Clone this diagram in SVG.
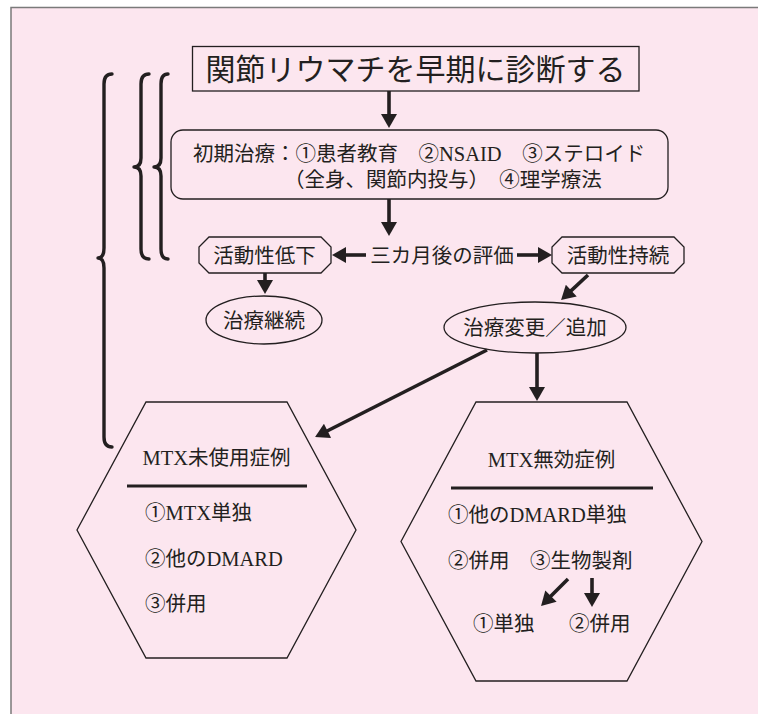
<svg xmlns="http://www.w3.org/2000/svg" width="758" height="714" viewBox="0 0 758 714">
<defs>
<style>
.t{font-family:"Liberation Serif","Noto Sans CJK JP",serif;font-size:20.5px;fill:#231f20}
.big{font-size:30px}
.m{text-anchor:middle}
.shape{fill:#fce6ef;stroke:#231f20;stroke-width:1.3}
.arr{stroke:#231f20;stroke-width:3.6;fill:none;marker-end:url(#ah)}
.brace{stroke:#231f20;stroke-width:3.4;fill:none;stroke-linecap:round;stroke-linejoin:round}
.div{stroke:#231f20;stroke-width:3}
</style>
<marker id="ah" markerUnits="userSpaceOnUse" markerWidth="16" markerHeight="16" viewBox="0 0 14 16" refX="6" refY="8" orient="auto">
<path d="M0,0 L14,8 L0,16 z" fill="#231f20"/>
</marker>
</defs>
<rect width="758" height="714" fill="#ffffff"/>
<rect x="11" y="7.5" width="760" height="720" fill="#fce6ef" stroke="#7a7a7a" stroke-width="1.5"/>

<g id="braces">
<path class="brace" d="M112,74 Q104,74 104,84 L104,248 Q104,258 98,258 Q104,258 104,268 L104,437 Q104,447 112,447"/>
<path class="brace" d="M149,74 Q141,74 141,84 L141,158 Q141,167 134,167 Q141,167 141,176 L141,249 Q141,259 149,259"/>
<path class="brace" d="M168,74 Q161,74 161,84 L161,158 Q161,167 154,167 Q161,167 161,176 L161,249 Q161,259 168,259"/>
</g>

<g id="title">
<rect class="shape" x="192.5" y="46.5" width="446.5" height="44.5"/>
<text class="t big m" x="415.5" y="79.5">関節リウマチを早期に診断する</text>
</g>

<g id="initial">
<rect class="shape" x="171" y="130" width="497" height="69" rx="12"/>
<text class="t" x="193" y="160.5">初期治療：①患者教育　②NSAID　③ステロイド</text>
<text class="t" x="284" y="187">（全身、関節内投与）　④理学療法</text>
</g>

<g id="eval">
<text class="t m" x="442" y="262.5">三カ月後の評価</text>
</g>

<g id="low">
<polygon class="shape" points="209,237 321,237 331,247 331,263 321,273 209,273 199,263 199,247"/>
<text class="t m" x="264.5" y="262.5">活動性低下</text>
</g>

<g id="persist">
<polygon class="shape" points="562,237 674,237 684,247 684,263 674,273 562,273 552,263 552,247"/>
<text class="t m" x="618" y="262.5">活動性持続</text>
</g>

<g id="continue">
<ellipse class="shape" cx="264" cy="320" rx="58" ry="24"/>
<text class="t m" x="264" y="327.5">治療継続</text>
</g>

<g id="change">
<ellipse class="shape" cx="535" cy="327.5" rx="91" ry="25.5"/>
<text class="t m" x="535" y="335">治療変更／追加</text>
</g>

<g id="mtx-naive">
<polygon class="shape" points="146,402 287,402 356,530 287,658 146,658 77,530"/>
<text class="t m" x="216.5" y="464.5">MTX未使用症例</text>
<line class="div" x1="127" y1="486" x2="307" y2="486"/>
<text class="t" x="145" y="519.5">①MTX単独</text>
<text class="t" x="145" y="565.5">②他のDMARD</text>
<text class="t" x="145" y="610.5">③併用</text>
</g>

<g id="mtx-failure">
<polygon class="shape" points="476,402 627,402 702,541.5 627,681 476,681 401,541.5"/>
<text class="t m" x="551.5" y="466.5">MTX無効症例</text>
<line class="div" x1="451" y1="488" x2="653" y2="488"/>
<text class="t" x="448" y="521.5">①他のDMARD単独</text>
<text class="t" x="448" y="567.5">②併用　③生物製剤</text>
<text class="t" x="473" y="630.5">①単独</text>
<text class="t" x="569" y="630.5">②併用</text>
</g>

<g id="connectors">
<line class="arr" x1="389" y1="91" x2="389" y2="120"/>
<line class="arr" x1="389" y1="199" x2="389" y2="228"/>
<line class="arr" x1="366" y1="255" x2="340" y2="255"/>
<line class="arr" x1="517" y1="255" x2="544" y2="255"/>
<line class="arr" x1="265" y1="273" x2="265" y2="286"/>
<line class="arr" x1="588" y1="275" x2="566.9" y2="294.6"/>
<line class="arr" x1="487" y1="350" x2="322.2" y2="433.5"/>
<line class="arr" x1="537" y1="353" x2="537" y2="393"/>
<line class="arr" x1="568" y1="579" x2="546.7" y2="600.3"/>
<line class="arr" x1="592" y1="578" x2="592" y2="599"/>
</g>
</svg>
